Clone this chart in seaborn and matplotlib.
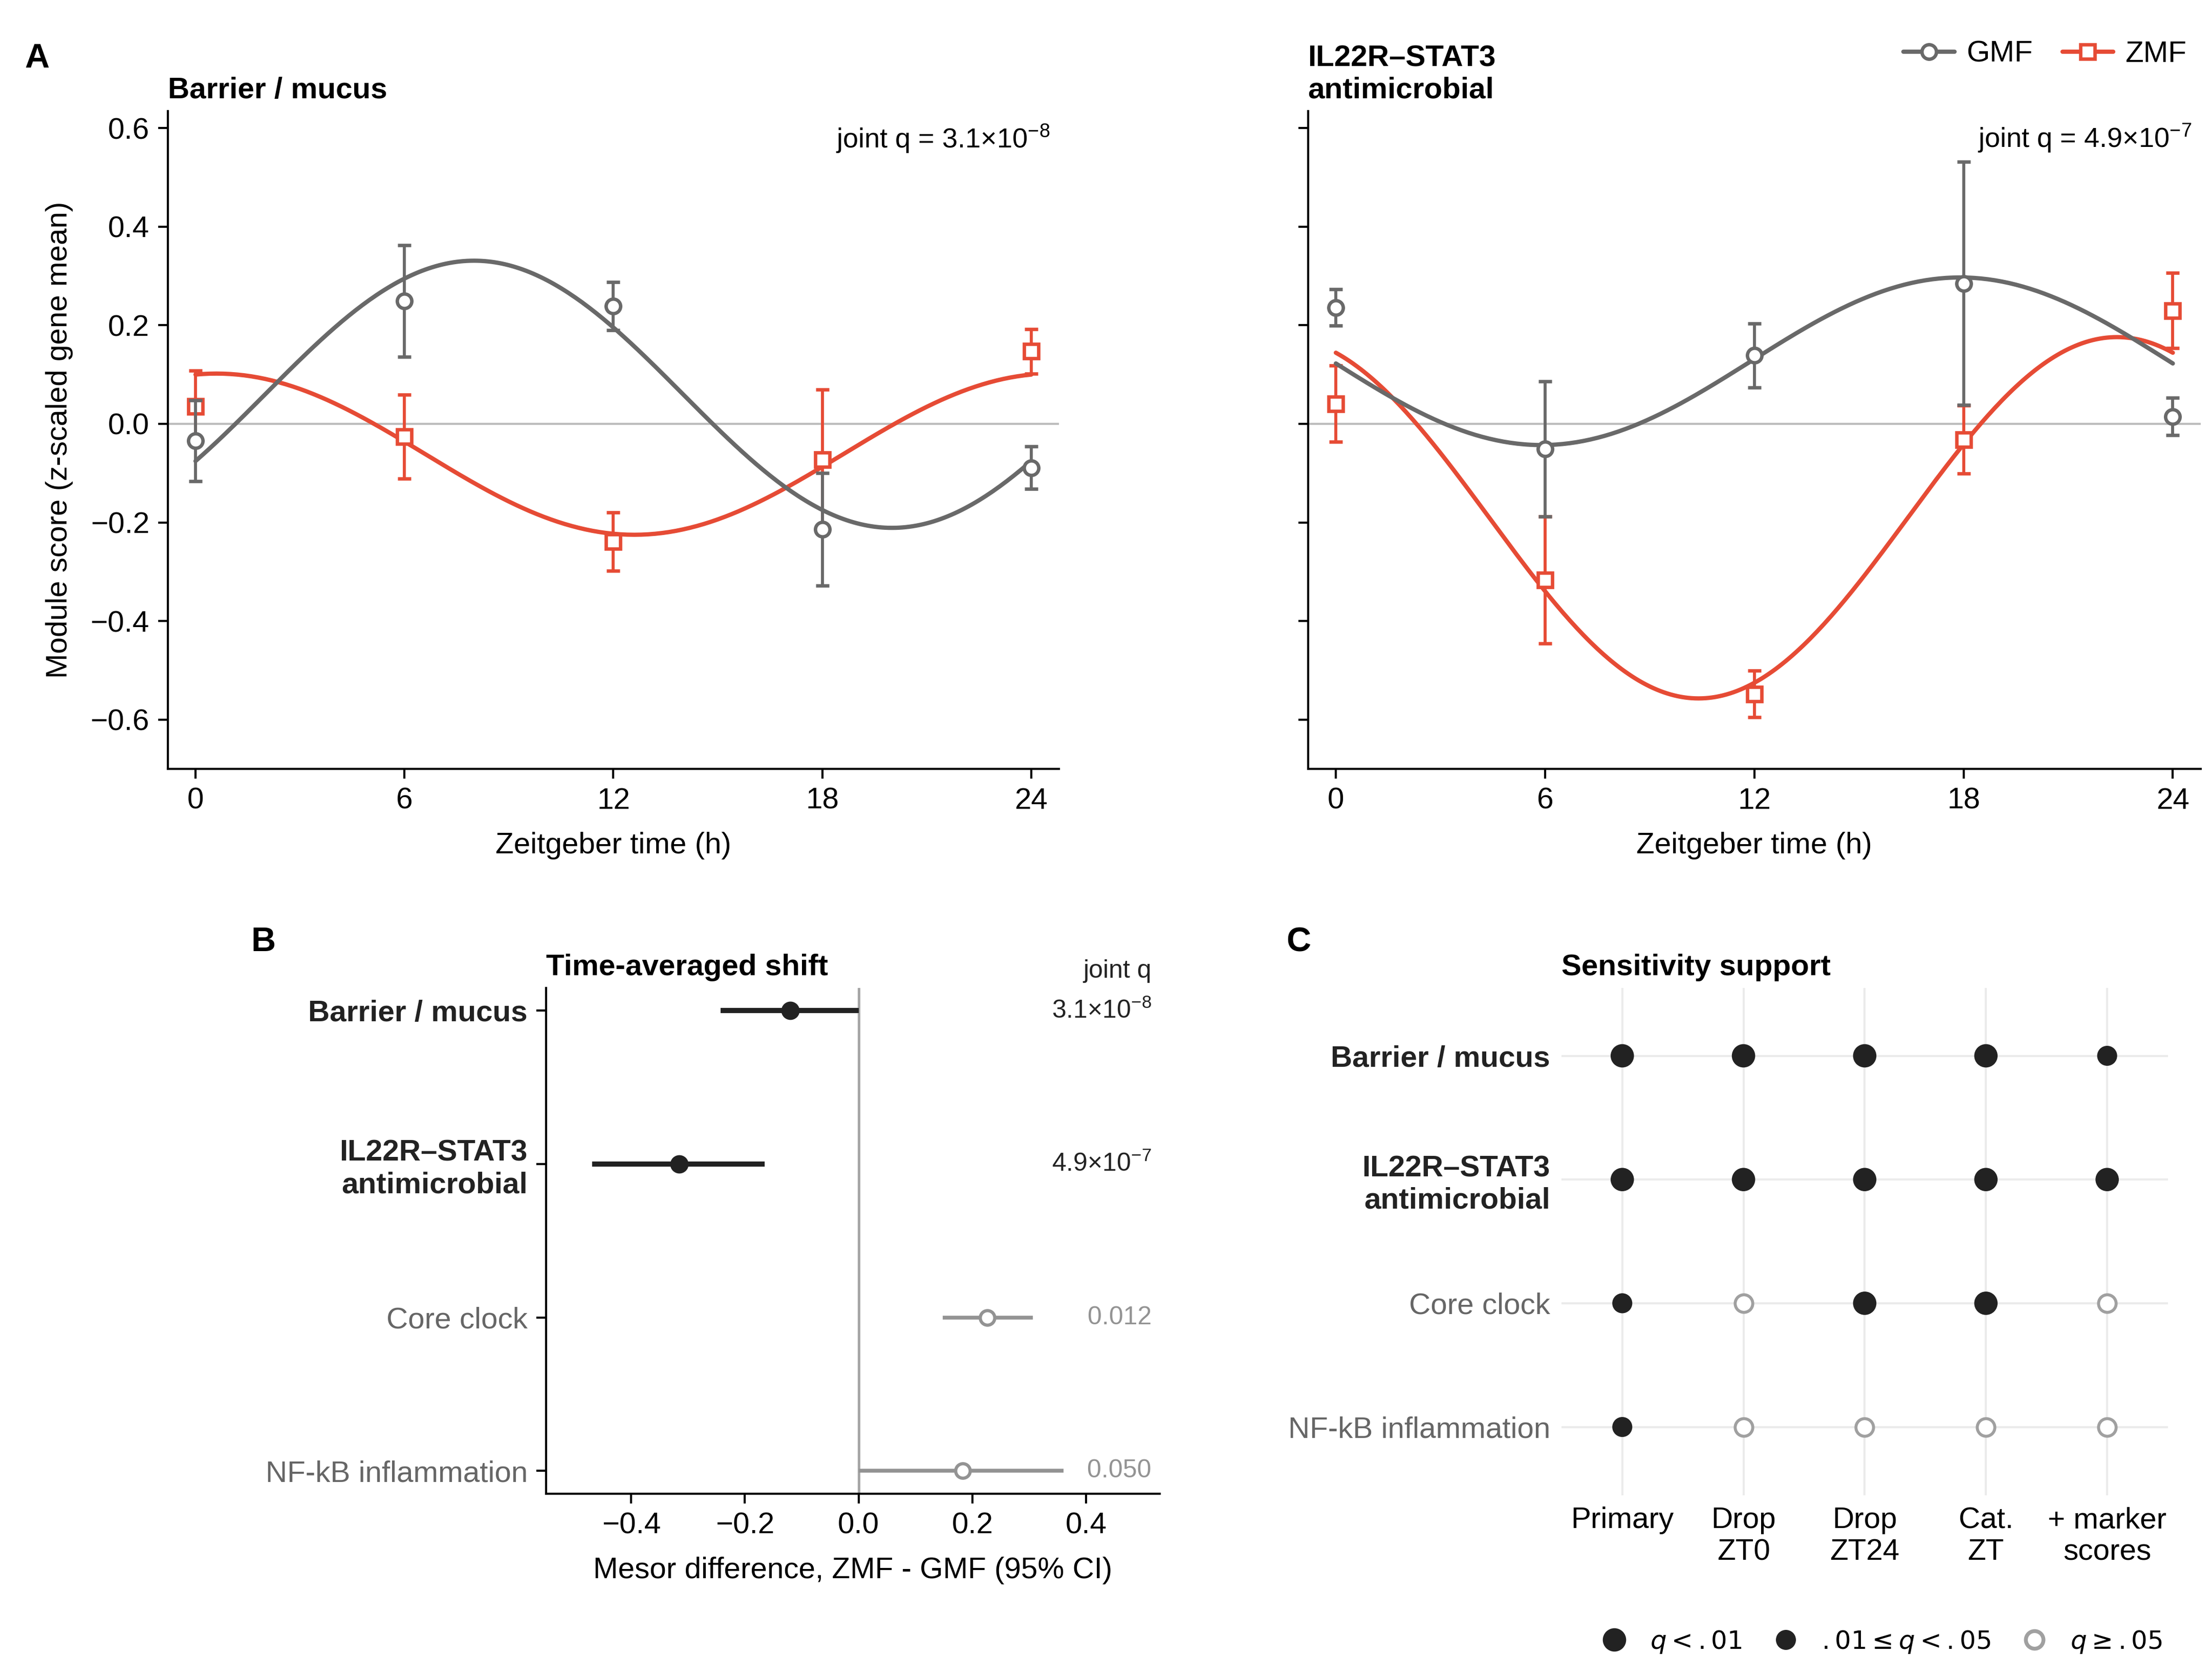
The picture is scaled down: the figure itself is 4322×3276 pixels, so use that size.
import numpy as np
import pandas as pd
import matplotlib
matplotlib.use("Agg")
import matplotlib.pyplot as plt
from matplotlib.lines import Line2D
from matplotlib.font_manager import FontProperties
import seaborn as sns

# ---- panel A: module scores by Zeitgeber time ----
zt = [0, 6, 12, 18, 24]

barrier_gmf_mean = [-0.034, 0.249, 0.239, -0.214, -0.089]
barrier_gmf_err = [0.082, 0.113, 0.049, 0.114, 0.043]
barrier_zmf_mean = [0.035, -0.026, -0.239, -0.073, 0.147]
barrier_zmf_err = [0.073, 0.085, 0.059, 0.143, 0.045]

il22_gmf_mean = [0.236, -0.051, 0.139, 0.285, 0.015]
il22_gmf_err = [0.037, 0.137, 0.065, 0.247, 0.038]
il22_zmf_mean = [0.041, -0.317, -0.548, -0.032, 0.230]
il22_zmf_err = [0.077, 0.129, 0.047, 0.069, 0.076]

# cosinor fits: mesor, amplitude, acrophase (h)
barrier_gmf_fit = [0.060, 0.271, 8.0]
barrier_zmf_fit = [-0.0615, 0.1635, 0.6]
il22_gmf_fit = [0.127, 0.170, 17.9]
il22_zmf_fit = [-0.1905, 0.3665, 22.4]

# ---- panel B: mesor difference ----
modules = ["Barrier / mucus", "IL22R\u2013STAT3\nantimicrobial", "Core clock", "NF-kB inflammation"]
mesor_diff = [-0.120, -0.316, 0.226, 0.183]
ci_low = [-0.243, -0.469, 0.148, 0.000]
ci_high = [0.000, -0.165, 0.306, 0.360]
joint_q = [r"$3.1{\times}10^{-8}$", r"$4.9{\times}10^{-7}$", "0.012", "0.050"]
significant = [True, True, False, False]

# ---- panel C: sensitivity support (2: q<.01, 1: .01<=q<.05, 0: q>=.05) ----
analyses = ["Primary", "Drop\nZT0", "Drop\nZT24", "Cat.\nZT", "+ marker\nscores"]
support = [
    [2, 2, 2, 2, 1],
    [2, 2, 2, 2, 2],
    [1, 0, 2, 2, 0],
    [1, 0, 0, 0, 0],
]

GRAY = "#696969"
RED = "#E64B35"
DARK = "#222222"
LIGHT = "#939393"
MUTED = "#666666"

sns.set_theme(context="paper", style="ticks")
plt.rcParams.update({
    "font.family": ["Liberation Sans", "DejaVu Sans"],
    "font.size": 7,
    "axes.labelsize": 7,
    "xtick.labelsize": 7,
    "ytick.labelsize": 7,
    "axes.titlesize": 7,
    "axes.titleweight": "bold",
    "axes.titlepad": 3,
    "axes.linewidth": 0.5,
    "axes.edgecolor": "black",
    "axes.labelcolor": "black",
    "text.color": "black",
    "xtick.color": "black",
    "ytick.color": "black",
    "xtick.major.width": 0.5,
    "ytick.major.width": 0.5,
    "xtick.major.size": 2.3,
    "ytick.major.size": 2.3,
    "xtick.major.pad": 2,
    "ytick.major.pad": 2,
    "mathtext.fontset": "custom",
    "mathtext.rm": "Liberation Sans",
    "mathtext.it": "Liberation Sans:italic",
    "mathtext.bf": "Liberation Sans:bold",
})

fig = plt.figure(figsize=(4322 / 600, 3276 / 600), dpi=600)
axA1 = fig.add_axes([0.0758, 0.5415, 0.4030, 0.3924])
axA2 = fig.add_axes([0.5913, 0.5415, 0.4036, 0.3924], sharey=axA1)
axB = fig.add_axes([0.2468, 0.1093, 0.2776, 0.3017])
axC = fig.add_axes([0.706, 0.1085, 0.274, 0.3025])


def draw_module(ax, gmf, zmf, title, qtext):
    ax.axhline(0, color="#BDBDBD", lw=0.5, zorder=0)
    t = np.linspace(0, 24, 241)
    z = 2
    for (mean, err, fit), color, marker in [(zmf, RED, "s"), (gmf, GRAY, "o")]:
        mesor, amp, phase = fit
        curve = mesor + amp * np.cos(2 * np.pi * (t - phase) / 24)
        sns.lineplot(x=t, y=curve, ax=ax, color=color, lw=1.0, zorder=z)
        ax.errorbar(zt, mean, yerr=err, fmt=marker, color=color, mfc="white", mec=color,
                    ms=3.4, mew=0.8, elinewidth=0.7, capsize=1.6, capthick=0.7, zorder=z + 1)
        z += 2
    ax.set_xlim(-0.8, 24.8)
    ax.set_xticks(zt)
    ax.set_ylim(-0.70, 0.635)
    ax.set_yticks([-0.6, -0.4, -0.2, 0.0, 0.2, 0.4, 0.6])
    ax.set_xlabel("Zeitgeber time (h)", labelpad=4)
    ax.set_title(title, loc="left")
    ax.text(0.99, 0.958, qtext, transform=ax.transAxes, ha="right", va="center", fontsize=6.5)
    sns.despine(ax=ax)


draw_module(axA1, (barrier_gmf_mean, barrier_gmf_err, barrier_gmf_fit),
            (barrier_zmf_mean, barrier_zmf_err, barrier_zmf_fit),
            "Barrier / mucus", r"joint q = $3.1{\times}10^{-8}$")
draw_module(axA2, (il22_gmf_mean, il22_gmf_err, il22_gmf_fit),
            (il22_zmf_mean, il22_zmf_err, il22_zmf_fit),
            "IL22R\u2013STAT3\nantimicrobial", r"joint q = $4.9{\times}10^{-7}$")
axA1.set_ylabel("Module score (z-scaled gene mean)", labelpad=4)
axA2.set_ylabel("")
axA2.tick_params(labelleft=False)

handles = [
    Line2D([0], [0], color=GRAY, lw=1.0, marker="o", ms=3.4, mfc="white", mec=GRAY, mew=0.8),
    Line2D([0], [0], color=RED, lw=1.0, marker="s", ms=3.4, mfc="white", mec=RED, mew=0.8),
]
axA2.legend(handles, ["GMF", "ZMF"], loc="center right", bbox_to_anchor=(0.984, 1.086),
            ncol=2, frameon=False, fontsize=7, handlelength=1.7, handletextpad=0.4,
            columnspacing=1.0, borderpad=0, borderaxespad=0)

# ---- panel B ----
rows = np.arange(len(modules))
axB.axvline(0, color="#A6A6A6", lw=0.6, zorder=0)
for i in rows:
    if significant[i]:
        axB.plot([ci_low[i], ci_high[i]], [i, i], color=DARK, lw=1.2, solid_capstyle="butt", zorder=2)
        axB.plot(mesor_diff[i], i, "o", color=DARK, ms=4.3, mew=0, zorder=3)
        qc = DARK
    else:
        axB.plot([ci_low[i], ci_high[i]], [i, i], color=LIGHT, lw=0.9, solid_capstyle="butt", zorder=2)
        axB.plot(mesor_diff[i], i, "o", mfc="white", mec=LIGHT, ms=3.4, mew=0.75, zorder=3)
        qc = LIGHT
    axB.text(0.515, i, joint_q[i], ha="right", va="center", fontsize=6, color=qc)
axB.text(0.515, -0.26, "joint q", ha="right", va="center", fontsize=6, color=DARK)
axB.set_yticks(rows, labels=modules)
for lbl, sig in zip(axB.get_yticklabels(), significant):
    lbl.set_fontweight("bold" if sig else "normal")
    lbl.set_color(DARK if sig else MUTED)
axB.set_ylim(3.15, -0.15)
axB.set_xlim(-0.55, 0.53)
axB.set_xticks([-0.4, -0.2, 0.0, 0.2, 0.4])
axB.set_xlabel("Mesor difference, ZMF - GMF (95% CI)", labelpad=4)
axB.set_title("Time-averaged shift", loc="left")
sns.despine(ax=axB)

# ---- panel C ----
records = []
for i in range(len(modules)):
    for j in range(len(analyses)):
        records.append({"row": i, "col": j, "level": support[i][j]})
grid = pd.DataFrame(records)

S_BIG, S_MID, S_OPEN = 30, 22, 17
sns.scatterplot(data=grid[grid.level == 2], x="col", y="row", s=S_BIG, color=DARK,
                edgecolor="none", ax=axC, zorder=3, legend=False)
sns.scatterplot(data=grid[grid.level == 1], x="col", y="row", s=S_MID, color=DARK,
                edgecolor="none", ax=axC, zorder=3, legend=False)
sns.scatterplot(data=grid[grid.level == 0], x="col", y="row", s=S_OPEN, color="white",
                edgecolor="#A0A0A0", linewidth=0.7, ax=axC, zorder=3, legend=False)
axC.set_xlim(-0.5, 4.5)
axC.set_ylim(3.55, -0.55)
axC.set_xticks(range(len(analyses)), labels=analyses)
axC.set_yticks(rows, labels=modules)
for lbl, sig in zip(axC.get_yticklabels(), significant):
    lbl.set_fontweight("bold" if sig else "normal")
    lbl.set_color(DARK if sig else MUTED)
axC.grid(True, color="#EBEBEB", lw=0.5, zorder=0)
axC.set_axisbelow(True)
axC.tick_params(length=0, pad=2.7)
axC.set_xlabel("")
axC.set_ylabel("")
axC.set_title("Sensitivity support", loc="left")
sns.despine(ax=axC, left=True, bottom=True)

leg_handles = [
    Line2D([0], [0], ls="none", marker="o", ms=np.sqrt(S_BIG), mfc=DARK, mec=DARK, mew=0),
    Line2D([0], [0], ls="none", marker="o", ms=np.sqrt(S_MID), mfc=DARK, mec=DARK, mew=0),
    Line2D([0], [0], ls="none", marker="o", ms=np.sqrt(S_OPEN), mfc="white", mec="#A0A0A0", mew=0.9),
]
fig.legend(leg_handles, [r"$q < .01$", r"$.01 \leq q < .05$", r"$q \geq .05$"],
           loc="center", bbox_to_anchor=(0.849, 0.021), ncol=3, frameon=False,
           prop=FontProperties(size=6.0, math_fontfamily="dejavusans"),
           handlelength=1.6, handletextpad=0.6, columnspacing=0.9)

# panel letters
for letter, x, y in [("A", 0.0167, 0.965), ("B", 0.119, 0.438), ("C", 0.587, 0.438)]:
    fig.text(x, y, letter, fontsize=8, fontweight="bold", ha="center", va="center")

fig.savefig("out.png", dpi=600)
